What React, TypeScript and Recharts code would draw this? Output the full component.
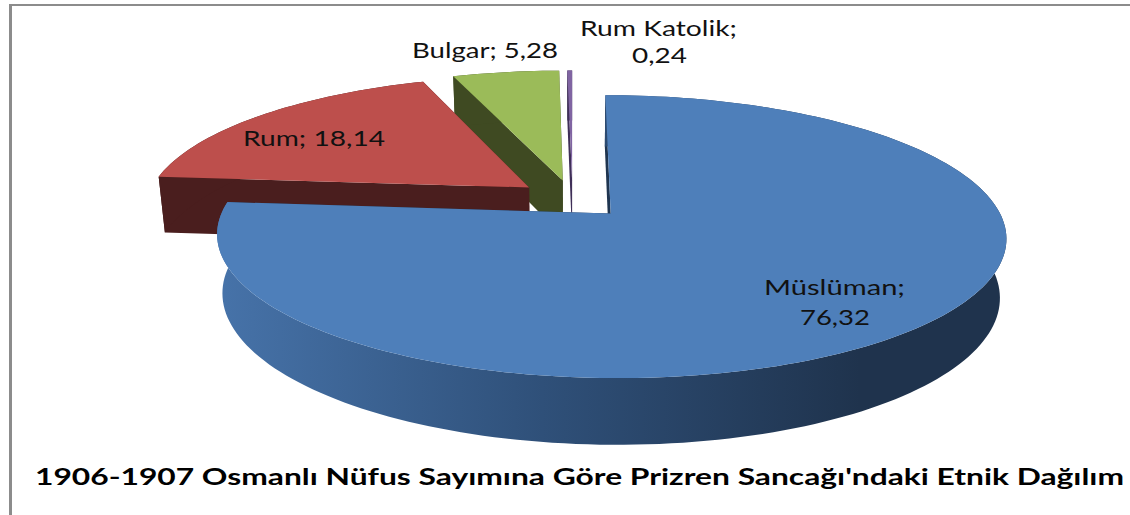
import React from "react";
import { PieChart, Pie } from "recharts";

const categories = ["Rum Katolik", "Bulgar", "Rum", "Müslüman"];
const values = [0.24, 5.28, 18.14, 76.32];
const topColors = ["#8064a2", "#9bbb59", "#bd4f4c", "#4e7fba"];
const wallColors = ["#3f2f58", "#3f4a22", "#4a1e1e", "#1f3550"];
const titleText = "1906-1907 Osmanlı Nüfus Sayımına Göre Prizren Sancağı'ndaki Etnik Dağılım";

const rows = categories.map((name, i) => ({ name, value: values[i] }));

// projection of the tilted 3D pie
const CX = 572.5;
const CY = 199;
const RADIUS = 382.6;
const TILT = 133 / 382.6;
const PERSPECTIVE = 0.161;
const EXPLODE = 0.145;
const DEPTH = 57;
const SHRINK = 0.985;
const rad = (d: number) => (d * Math.PI) / 180;

type Pt = [number, number];
const project = (u: number, v: number, cx: number, cy: number, r: number): Pt => {
  const w = 1 + PERSPECTIVE * v;
  return [cx + (r * u) / w, cy - (r * TILT * v) / w];
};
const lower = (u: number, v: number, cx: number, cy: number, r: number): Pt => {
  const [x, y] = project(u, v, cx, cy, r);
  const w = 1 + PERSPECTIVE * v;
  return [cx + (x - cx) * SHRINK, cy + (y - cy) * SHRINK + DEPTH / w];
};
const toPath = (pts: Pt[]) =>
  "M" + pts.map((p) => `${p[0].toFixed(2)},${p[1].toFixed(2)}`).join("L") + "Z";

function Slice3D(props: any) {
  const { cx, cy, outerRadius, startAngle, endAngle, midAngle } = props;
  const i = categories.indexOf(props.name ?? props.payload?.name);
  const mid = midAngle ?? (startAngle + endAngle) / 2;
  const ou = EXPLODE * Math.cos(rad(mid));
  const ov = EXPLODE * Math.sin(rad(mid));
  const steps = Math.max(2, Math.ceil(Math.abs(endAngle - startAngle) / 1.5));
  const rim: [number, number][] = [];
  for (let s = 0; s <= steps; s++) {
    const a = startAngle + ((endAngle - startAngle) * s) / steps;
    rim.push([ou + Math.cos(rad(a)), ov + Math.sin(rad(a))]);
  }
  const P = (q: [number, number]) => project(q[0], q[1], cx, cy, outerRadius);
  const L = (q: [number, number]) => lower(q[0], q[1], cx, cy, outerRadius);
  const apex: [number, number] = [ou, ov];
  const rimTop = rim.map(P);
  const rimLow = rim.map(L);
  const wallFill = i === 3 ? "url(#blueWall)" : wallColors[i];
  const face = (q: [number, number]) => toPath([P(apex), P(q), L(q), L(apex)]);
  return (
    <g>
      {i === 3 && (
        <defs>
          <linearGradient id="blueWall" gradientUnits="userSpaceOnUse" x1={225} y1={0} x2={860} y2={0}>
            <stop offset="0" stopColor="#4672a8" />
            <stop offset="0.5" stopColor="#2f5079" />
            <stop offset="1" stopColor="#1f334d" />
          </linearGradient>
        </defs>
      )}
      <path d={face(rim[0])} fill={wallColors[i]} />
      <path d={face(rim[rim.length - 1])} fill={wallColors[i]} />
      <path d={toPath([...rimTop, ...rimLow.slice().reverse()])} fill={wallFill} />
      <path d={toPath([P(apex), ...rimTop])} fill={topColors[i]} />
    </g>
  );
}

const FONT = "Lato, 'Open Sans', sans-serif";
const labelSpots: Record<string, { x: number; w: number; y: number }[]> = {
  "Rum Katolik": [
    { x: 580, w: 157, y: 36 },
    { x: 632, w: 55, y: 63 },
  ],
  Bulgar: [{ x: 412, w: 146, y: 58 }],
  Rum: [{ x: 243, w: 142, y: 146 }],
  "Müslüman": [
    { x: 764, w: 141, y: 295 },
    { x: 800, w: 70, y: 325 },
  ],
};

function SliceLabel(props: any) {
  const name: string = props.name ?? props.payload?.name;
  const text = (props.value as number).toFixed(2).replace(".", ",");
  const spots = labelSpots[name];
  const lines = spots.length > 1 ? [`${name};`, text] : [`${name}; ${text}`];
  return (
    <g>
      {lines.map((line, k) => (
        <text
          key={k}
          x={spots[k].x}
          y={spots[k].y}
          textLength={spots[k].w}
          lengthAdjust="spacingAndGlyphs"
          fontFamily={FONT}
          fontSize={21}
          fill="#111"
        >
          {line}
        </text>
      ))}
    </g>
  );
}

export default function App() {
  return (
    <div style={{ position: "absolute", left: 0, top: 0, width: 1130, height: 515, background: "#fff", overflow: "hidden" }}>
      <div style={{ position: "absolute", left: 9, top: 4, width: 3, height: 511, background: "#8c8c8c" }} />
      <div style={{ position: "absolute", left: 9, top: 4, width: 1121, height: 2, background: "#8c8c8c" }} />
      <div style={{ position: "absolute", left: 0, top: 0 }}>
        <PieChart width={1130} height={515} margin={{ top: 0, right: 0, bottom: 0, left: 0 }}>
          <Pie
            data={rows}
            dataKey="value"
            nameKey="name"
            cx={CX}
            cy={CY}
            innerRadius={0}
            outerRadius={RADIUS}
            startAngle={90}
            endAngle={450}
            paddingAngle={0}
            stroke="none"
            isAnimationActive={false}
            shape={Slice3D}
            label={SliceLabel}
            labelLine={false}
          />
          <text
            x={35}
            y={485}
            textLength={1089}
            lengthAdjust="spacingAndGlyphs"
            fontFamily={FONT}
            fontWeight={700}
            fontSize={22}
            fill="#000"
          >
            {titleText}
          </text>
        </PieChart>
      </div>
    </div>
  );
}
